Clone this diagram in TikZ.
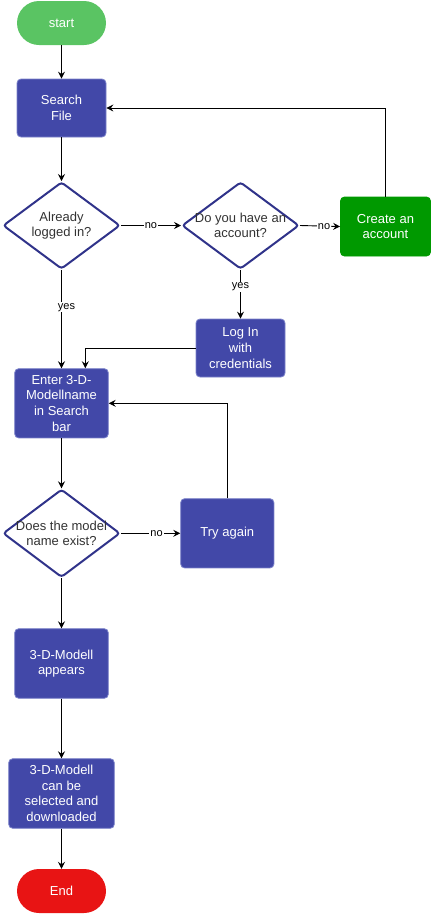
\documentclass[tikz,border=0pt]{standalone}
\usepackage{fontspec}
\setmainfont{Liberation Sans}
\usetikzlibrary{shapes.geometric,arrows.meta,positioning}
\definecolor{startgreen}{HTML}{5AC463}
\definecolor{accgreen}{HTML}{009900}
\definecolor{endred}{HTML}{E81414}
\definecolor{boxblue}{HTML}{4248A8}
\definecolor{boxedge}{HTML}{7C83CA}
\definecolor{dianavy}{HTML}{30338A}
\definecolor{diatext}{HTML}{333333}
\tikzset{
  base/.style={font=\fontsize{13}{15.6}\selectfont, align=center, inner sep=0pt},
  term/.style={base, rounded rectangle/.style={}, draw=none, text=white,
    minimum width=89pt, minimum height=44pt, rounded corners=22pt},
  proc/.style={base, draw=boxedge, line width=0.8pt, fill=boxblue, text=white,
    rounded corners=4pt},
  dia/.style={diamond, draw=dianavy, line width=2pt, fill=white, rounded corners=3pt,
    minimum width=117pt, minimum height=87pt, inner sep=0pt},
  diatxt/.style={base, text=diatext},
  arr/.style={draw=black, line width=0.9pt, -{Stealth[length=7pt,width=7pt,inset=2.5pt]}},
  lbl/.style={font=\fontsize{11}{13}\selectfont, fill=white, inner sep=1pt, text=black}
}
\begin{document}
\begin{tikzpicture}[x=1pt,y=-1pt]
\useasboundingbox (0,0) rectangle (431,914);

\node[term, fill=startgreen] (start) at (61.5,23) {start};
\node[proc, minimum width=89pt, minimum height=58pt] (search) at (61.5,108) {Search\\File};
\node[dia] (d1) at (61.5,225.5) {};
\node[diatxt] at (d1) {Already\\logged in?};
\node[dia] (d2) at (240.5,225.5) {};
\node[diatxt] at (d2) {Do you have an\\account?};
\node[proc, draw=accgreen, fill=accgreen, minimum width=90pt, minimum height=59pt] (create) at (385.5,226.5) {Create an\\account};
\node[proc, minimum width=89pt, minimum height=58pt] (login) at (240.5,348) {Log In\\with\\credentials};
\node[proc, minimum width=93.6pt, minimum height=69.3pt] (enter) at (61.5,403.3) {Enter 3-D-\\Modellname\\in Search\\bar};
\node[dia, minimum height=88pt] (d3) at (61.5,533.3) {};
\node[diatxt] at (d3) {Does the model\\name exist?};
\node[proc, minimum width=93.3pt, minimum height=69.3pt] (try) at (227.3,533.3) {Try again};
\node[proc, minimum width=93.6pt, minimum height=69.6pt] (appears) at (61.5,663.5) {3-D-Modell\\appears};
\node[proc, minimum width=105.6pt, minimum height=69.6pt] (dl) at (61.5,793.5) {3-D-Modell\\can be\\selected and\\downloaded};
\node[term, fill=endred] (end) at (61.5,891) {End};

\draw[arr] (start) -- (search);
\draw[arr] (search) -- (d1);
\draw[arr] (d1.east) -- node[lbl, pos=0.5] {no} (d2.west);
\draw[arr] (d2.east) -- node[lbl, pos=0.6] {no} (create.west);
\draw[arr] (create.north) |- (search.east);
\draw[arr] (d2.south) -- node[lbl, pos=0.35] {yes} (login.north);
\draw[arr] (d1.south) -- node[lbl, pos=0.38, xshift=5pt] {yes} (enter.north);
\draw[arr] (login.west) -| ([xshift=23.8pt]enter.north);
\draw[arr] (enter) -- (d3);
\draw[arr] (d3.east) -- node[lbl, pos=0.6] {no} (try.west);
\draw[arr] (try.north) |- (enter.east);
\draw[arr] (d3.south) -- (appears.north);
\draw[arr] (appears) -- (dl);
\draw[arr] (dl) -- (end);
\end{tikzpicture}
\end{document}
